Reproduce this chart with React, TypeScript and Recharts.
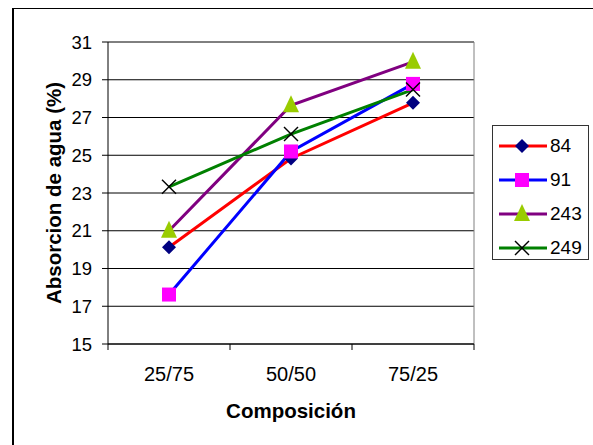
import { LineChart, Line, XAxis, YAxis, CartesianGrid, Legend, ReferenceLine } from "recharts";

const categories = ["25/75", "50/50", "75/25"];
const s84 = [20.13, 24.83, 27.78];
const s91 = [17.62, 25.2, 28.78];
const s243 = [21.0, 27.65, 29.95];
const s249 = [23.33, 26.12, 28.48];
const yTicks = [15, 17, 19, 21, 23, 25, 27, 29, 31];
const xTicks = [0, 0.5, 1, 1.5, 2, 2.5, 3];

const data = categories.map((name, i) => ({
  pos: i + 0.5,
  name,
  s84: s84[i],
  s91: s91[i],
  s243: s243[i],
  s249: s249[i],
}));

const FONT = "Arial, 'Liberation Sans', sans-serif";

type MarkerKind = "diamond" | "square" | "triangle" | "cross";

function Marker({ kind, cx, cy }: { kind: MarkerKind; cx: number; cy: number }) {
  if (kind === "diamond") {
    return (
      <polygon
        points={`${cx},${cy - 7} ${cx + 7},${cy} ${cx},${cy + 7} ${cx - 7},${cy}`}
        fill="#000080"
      />
    );
  }
  if (kind === "square") {
    return <rect x={cx - 7} y={cy - 7} width={14} height={14} fill="#FF00FF" />;
  }
  if (kind === "triangle") {
    return (
      <polygon
        points={`${cx},${cy - 10} ${cx + 8},${cy + 7} ${cx - 8},${cy + 7}`}
        fill="#99CC00"
      />
    );
  }
  return (
    <g stroke="#000" strokeWidth={1.4}>
      <line x1={cx - 7} y1={cy - 7} x2={cx + 7} y2={cy + 7} />
      <line x1={cx - 7} y1={cy + 7} x2={cx + 7} y2={cy - 7} />
    </g>
  );
}

const series: { key: string; name: string; color: string; marker: MarkerKind }[] = [
  { key: "s84", name: "84", color: "#FF0000", marker: "diamond" },
  { key: "s91", name: "91", color: "#0000FF", marker: "square" },
  { key: "s243", name: "243", color: "#800080", marker: "triangle" },
  { key: "s249", name: "249", color: "#008000", marker: "cross" },
];

const makeDot = (kind: MarkerKind) => (props: any) => {
  const { cx, cy, index } = props;
  return <Marker key={`${kind}-${index}`} kind={kind} cx={cx} cy={cy} />;
};

const XTick = (props: any) => {
  const { x, y, payload } = props;
  const v = payload.value as number;
  if (Number.isInteger(v)) {
    return <line x1={x} y1={y} x2={x} y2={y + 6} stroke="#000" />;
  }
  return (
    <text x={x} y={y + 37} textAnchor="middle" fontSize={20} fontFamily={FONT} fill="#000">
      {categories[Math.floor(v)]}
    </text>
  );
};

const LegendBox = () => (
  <div
    style={{
      boxSizing: "border-box",
      width: 97,
      height: 135,
      border: "1px solid #333",
      background: "#fff",
      paddingTop: 3,
      fontFamily: FONT,
      fontSize: 19,
    }}
  >
    {series.map((s) => (
      <div key={s.key} style={{ display: "flex", alignItems: "center", height: 34 }}>
        <svg width={57} height={20} style={{ display: "block" }}>
          <line x1={6} y1={10} x2={54} y2={10} stroke={s.color} strokeWidth={3} />
          <Marker kind={s.marker} cx={29} cy={10} />
        </svg>
        <span style={{ color: "#000" }}>{s.name}</span>
      </div>
    ))}
  </div>
);

export default function App() {
  return (
    <div
      style={{
        position: "absolute",
        left: 0,
        top: 0,
        width: 593,
        height: 445,
        overflow: "hidden",
        background: "#fff",
      }}
    >
      <div
        style={{
          position: "absolute",
          left: 12,
          top: 8,
          width: 700,
          height: 600,
          borderTop: "1px solid #000",
          borderLeft: "2px solid #000",
        }}
      />
      <div style={{ position: "absolute", left: 0, top: 0 }}>
        <LineChart
          width={593}
          height={445}
          data={data}
          margin={{ top: 42, right: 119, bottom: 0, left: 0 }}
        >
          <CartesianGrid vertical={false} stroke="#000" strokeOpacity={1} />
          <XAxis
            dataKey="pos"
            type="number"
            domain={[0, 3]}
            ticks={xTicks}
            interval={0}
            height={101}
            tickLine={false}
            tickSize={0}
            tickMargin={0}
            stroke="#000"
            tick={XTick}
            label={{
              content: () => (
                <text
                  x={291}
                  y={418}
                  textAnchor="middle"
                  fontSize={20.5}
                  fontWeight="bold"
                  fontFamily={FONT}
                  fill="#000"
                >
                  Composición
                </text>
              ),
            }}
          />
          <YAxis
            width={108}
            domain={[15, 31]}
            ticks={yTicks}
            interval={0}
            tickSize={6}
            tickMargin={10}
            stroke="#000"
            tick={{ fontSize: 18.5, fontFamily: FONT, fill: "#000" }}
            label={{
              value: "Absorcion de agua (%)",
              angle: -90,
              position: "center",
              dx: 0,
              style: { fontSize: 20.5, fontWeight: "bold", fontFamily: FONT, fill: "#000" },
            }}
          />
          <ReferenceLine y={31} stroke="#808080" />
          <ReferenceLine x={3} stroke="#808080" />
          {series.map((s) => (
            <Line
              key={s.key}
              dataKey={s.key}
              name={s.name}
              stroke={s.color}
              strokeWidth={3}
              type="linear"
              dot={makeDot(s.marker)}
              activeDot={false}
              isAnimationActive={false}
            />
          ))}
          <Legend
            layout="horizontal"
            verticalAlign="middle"
            align="center"
            content={LegendBox}
            wrapperStyle={{ left: 492, top: 125, width: 97, height: 135 }}
          />
        </LineChart>
      </div>
    </div>
  );
}
